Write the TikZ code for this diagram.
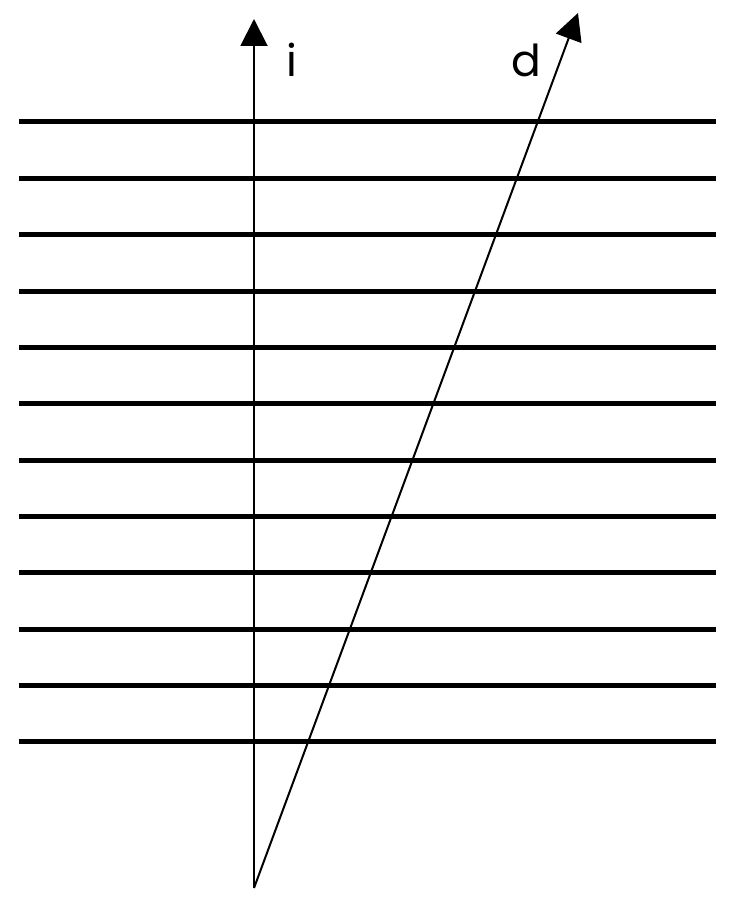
\documentclass[tikz,border=0pt]{standalone}
\usepackage{fontspec}
\setmainfont{Poppins}
\usepackage{tikz}
\usetikzlibrary{arrows.meta,positioning,calc}

\tikzset{
    layer/.style={line width=5pt},
    axis/.style={line width=2pt, -{Triangle[length=27pt,width=27pt]}},
    axislabel/.style={font=\fontsize{44}{44}\selectfont, inner sep=0pt}
}

\begin{document}
\begin{tikzpicture}[x=1pt,y=-1pt]
\useasboundingbox (0,0) rectangle (733,901);
% horizontal layers
\foreach \k in {0,...,11} {
    \draw[layer] (19,{122+56.36*\k}) -- (716,{122+56.36*\k});
}
% origin and tips
\coordinate (origin) at (254,888);
\coordinate (itip) at (254,19);
\coordinate (dtip) at (578,13);
\draw[axis] (origin) -- (itip);
\draw[axis] (origin) -- (dtip);
\node[axislabel] (ilabel) at (292,60) {i};
\node[axislabel] (dlabel) at (526,60) {d};
\end{tikzpicture}
\end{document}
